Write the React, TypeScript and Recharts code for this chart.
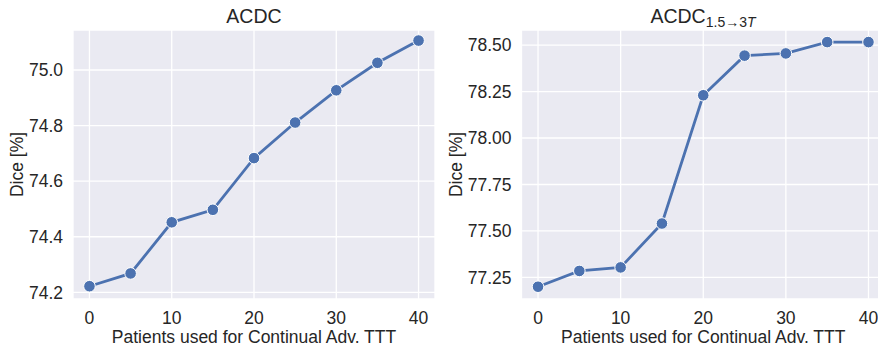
import React from "react";
import {
  LineChart, Line, XAxis, YAxis, CartesianGrid,
} from "recharts";

const patients = [0, 5, 10, 15, 20, 25, 30, 35, 40];
const acdcDice = [74.222, 74.268, 74.452, 74.497, 74.683, 74.811, 74.927, 75.026, 75.106];
const shiftDice = [77.2, 77.285, 77.304, 77.54, 78.23, 78.443, 78.455, 78.516, 78.516];
const xTicks = [0, 10, 20, 30, 40];
const acdcTicks = [74.2, 74.4, 74.6, 74.8, 75.0];
const shiftTicks = [77.25, 77.5, 77.75, 78.0, 78.25, 78.5];

const FONT = "'Liberation Sans', Arial, sans-serif";
const INK = "#262626";
const BLUE = "#4C72B0";
const BG = "#EAEAF2";

const toRows = (ys: number[]) => patients.map((p, i) => ({ p, v: ys[i] }));

interface PanelProps {
  left: number;
  width: number;
  yWidth: number;
  rows: { p: number; v: number }[];
  yTicks: number[];
  yDomain: [number, number];
  digits: number;
  yLabelX: number;
  title: React.ReactNode;
  titleCenter: number;
}

const Panel: React.FC<PanelProps> = ({
  left, width, yWidth, rows, yTicks, yDomain, digits, yLabelX, title, titleCenter,
}) => {
  const tickStyle = { fill: INK, fontSize: 17.5, fontFamily: FONT };
  return (
    <div style={{ position: "absolute", left, top: 0, width, height: 345 }}>
      <div
        style={{
          position: "absolute", left: titleCenter - 150, width: 300, top: 4,
          textAlign: "center", fontFamily: FONT, fontSize: 19.5, color: INK, lineHeight: "24px",
        }}
      >
        {title}
      </div>
      <LineChart
        width={width}
        height={345}
        data={rows}
        margin={{ top: 30, right: 0, bottom: 0, left: 0 }}
      >
        <CartesianGrid stroke="#ffffff" strokeWidth={1.3} fill={BG} fillOpacity={1} />
        <XAxis
          dataKey="p"
          type="number"
          domain={[-2, 42]}
          ticks={xTicks}
          axisLine={false}
          tickLine={false}
          tickSize={8}
          tickMargin={5}
          height={46}
          tick={tickStyle}
          label={{
            value: "Patients used for Continual Adv. TTT",
            content: (props: any) => {
              const vb = props.viewBox || {};
              const cx = (vb.x ?? 0) + (vb.width ?? 0) / 2;
              return (
                <text
                  x={cx}
                  y={336.5}
                  textAnchor="middle"
                  dominantBaseline="central"
                  fill={INK}
                  fontSize={17.5}
                  fontFamily={FONT}
                >
                  Patients used for Continual Adv. TTT
                </text>
              );
            },
          }}
        />
        <YAxis
          type="number"
          domain={yDomain}
          allowDataOverflow
          ticks={yTicks}
          axisLine={false}
          tickLine={false}
          tickSize={8}
          tickMargin={2}
          width={yWidth}
          tick={tickStyle}
          tickFormatter={(v: number) => v.toFixed(digits)}
          label={{
            value: "Dice [%]",
            content: (props: any) => {
              const vb = props.viewBox || {};
              const cy = (vb.y ?? 30) + (vb.height ?? 269) / 2;
              return (
                <text
                  x={yLabelX}
                  y={cy}
                  transform={`rotate(-90 ${yLabelX} ${cy})`}
                  textAnchor="middle"
                  dominantBaseline="central"
                  fill={INK}
                  fontSize={17.5}
                  fontFamily={FONT}
                >
                  Dice [%]
                </text>
              );
            },
          }}
        />
        <Line
          dataKey="v"
          stroke={BLUE}
          strokeWidth={2.8}
          isAnimationActive={false}
          dot={{ r: 5.8, fill: BLUE, stroke: "#ffffff", strokeWidth: 1 }}
          activeDot={false}
        />
      </LineChart>
    </div>
  );
};

export default function App() {
  return (
    <div
      style={{
        position: "absolute", left: 0, top: 0, width: 878, height: 345,
        overflow: "hidden", background: "#ffffff",
      }}
    >
      <Panel
        left={0}
        width={435}
        yWidth={73}
        rows={toRows(acdcDice)}
        yTicks={acdcTicks}
        yDomain={[74.176, 75.144]}
        digits={1}
        yLabelX={17}
        title="ACDC"
        titleCenter={254}
      />
      <Panel
        left={438}
        width={447}
        yWidth={83.5}
        rows={toRows(shiftDice)}
        yTicks={shiftTicks}
        yDomain={[77.134, 78.581]}
        digits={2}
        yLabelX={18}
        title={
          <span>
            ACDC
            <span style={{ fontSize: 14, position: "relative", top: 4 }}>
              1.5→3<i>T</i>
            </span>
          </span>
        }
        titleCenter={265}
      />
    </div>
  );
}
